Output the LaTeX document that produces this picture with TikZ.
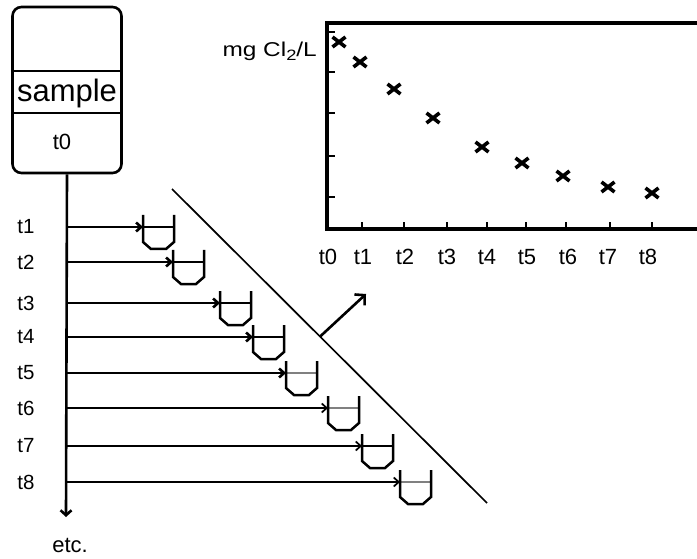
\documentclass[tikz,border=0pt]{standalone}
\usepackage{fontspec}
\setmainfont{Liberation Sans}
\usetikzlibrary{arrows.meta,calc}
\begin{document}
\begin{tikzpicture}[x=1pt,y=-1pt,
  lab/.style={font=\fontsize{20.5}{22}\selectfont,inner sep=0pt},
  glab/.style={font=\fontsize{22}{24}\selectfont,inner sep=0pt},
  arrthick/.style={line width=2.6pt,-{Straight Barb[length=5pt,width=9pt]}},
  arrthin/.style={line width=1.7pt,-{Straight Barb[length=5pt,width=9pt]}},
  axis/.style={line width=3.6pt},
  tick/.style={line width=2.6pt},
  mk/.style={line width=3.6pt,line cap=butt},
  pics/beaker/.style={code={
    \draw[line width=1.2pt,#1] (0,0) -- (31,0);
    \draw[line width=2.5pt,line join=miter] (0,-12) -- (0,15) -- (8,22) -- (23,22) -- (31,15) -- (31,-12);
  }}
]
\useasboundingbox (0,0) rectangle (697,559);

% sample box
\node[rectangle,draw,line width=2.6pt,rounded corners=9pt,minimum width=109pt,minimum height=166pt,
      inner sep=0pt] (box) at (67,90) {};
\draw[line width=2pt] (box.west |- 0,71) -- (box.east |- 0,71);
\draw[line width=2pt] (box.west |- 0,113) -- (box.east |- 0,113);
\node[font=\fontsize{31}{33}\selectfont,inner sep=0pt,anchor=base] (smp) at (67,101.5) {sample};
\node[glab] (t0box) at (62,142) {t0};

% time line
\coordinate (tend) at (66,517);
\draw[line width=2.6pt,-{Straight Barb[length=5pt,width=11pt]}] (box.south) -- (tend);
\node[font=\fontsize{22}{24}\selectfont,inner sep=0pt] (etc) at (70,545) {etc.};

% rows: y, beaker x, style, water colour
\foreach \i/\yy/\bx/\st/\wc in {1/227/143/arrthick/black,2/262/173/arrthick/black,3/303/220/arrthick/black,
  4/337/253/arrthick/black,5/373/286/arrthick/gray,6/408/328/arrthin/gray,7/446/362/arrthin/black,8/482/400/arrthin/gray}{
  \coordinate (v\i) at (66,\yy);
  \coordinate (b\i) at (\bx,\yy);
  \node[lab] (l\i) at (26,\yy) {t\i};
  \pic at (b\i) {beaker=\wc};
  \draw[\st] (v\i) -- (b\i);
}

% diagonal line and arrow
\coordinate (d1) at (172,189);
\coordinate (d2) at (487,503);
\draw[line width=1.7pt] (d1) -- (d2);
\coordinate (pa) at ($(d1)!0.47!(d2)$);
\coordinate (pb) at (366,294);
\draw[line width=2.6pt,-{Straight Barb[length=7pt,width=15pt]}] (pa) -- (pb);

% graph
\draw[axis] (697,23) -- (327,23) -- (327,229) -- (697,229);
\foreach \yy in {32,72,113,156,197}{\draw[tick] (327,\yy) -- ++(8,0);}
\foreach \xx in {362,404,447,487,526,566,610,652}{\draw[tick] (\xx,229) -- ++(0,-7);}
\foreach \xx/\n in {328/0,363/1,405/2,447/3,487/4,527/5,568/6,608/7,648/8}{
  \node[glab] (x\n) at (\xx,257) {t\n};
}
\node[font=\fontsize{20}{22}\selectfont,inner sep=0pt,anchor=base east] (ylab) at (317,56.5) {\scalebox{1.22}[1]{mg Cl\raisebox{-4pt}{\fontsize{15}{16}\selectfont 2}/L}};
\foreach \xx/\yy in {339/42,360/62,394/89,433/118,482/147,522/163,563/176,608/187,652/193}{
  \draw[mk] (\xx-6.5,\yy-5) -- (\xx+6.5,\yy+5);
  \draw[mk] (\xx-6.5,\yy+5) -- (\xx+6.5,\yy-5);
}
\end{tikzpicture}
\end{document}
